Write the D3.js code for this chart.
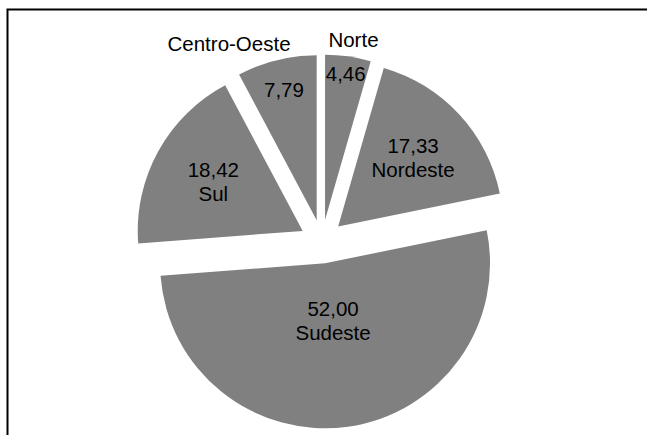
<!DOCTYPE html>
<html><head><meta charset="utf-8">
<script src="https://cdn.jsdelivr.net/npm/d3@7"></script>
<style>html,body{margin:0;padding:0;background:#fff;overflow:hidden}</style>
</head><body>
<svg id="c" width="647" height="435"></svg>
<script>
// ---- data ----
const categories = ["Norte", "Nordeste", "Sudeste", "Sul", "Centro-Oeste"];
const values = [4.46, 17.33, 52.00, 18.42, 7.79];
// which slices show their name outside the pie (value stays inside)
const nameOutside = [true, false, false, false, true];

// ---- layout / style config ----
const W = 647, H = 435;
const cx = 322, cy = 241.5, R = 165, explode = 22;
const labelDist = [148, 102, 58, 102, 135];     // distance of inner label from slice apex
const outerDist = 182;                            // distance of outside name
const outerAnchor = ["middle", null, null, null, "end"];
const outerDx = [3, 0, 0, 0, 18];
const fontSize = 20.5, lineGap = 24;
const sliceColor = "#808080";

const fmt = d3.formatLocale({decimal: ",", thousands: ".", grouping: [3], currency: ["", ""]}).format(".2f");

const svg = d3.select("#c");
svg.append("rect").attr("x", 0).attr("y", 0).attr("width", W).attr("height", H).attr("fill", "#fff");
svg.append("rect").attr("x", 7.5).attr("y", 9.5).attr("width", W + 20).attr("height", H + 20)
  .attr("fill", "none").attr("stroke", "#000").attr("stroke-width", 2);

const data = categories.map((c, i) => ({name: c, value: values[i], i}));
const pie = d3.pie().sort(null).value(d => d.value).startAngle(0).endAngle(2 * Math.PI);
const arc = d3.arc().innerRadius(0).outerRadius(R);
const arcs = pie(data);

const g = svg.append("g").attr("transform", `translate(${cx},${cy})`);

arcs.forEach(a => {
  const mid = (a.startAngle + a.endAngle) / 2;
  const ux = Math.sin(mid), uy = -Math.cos(mid);
  const ox = ux * explode, oy = uy * explode;
  const sg = g.append("g").attr("transform", `translate(${ox},${oy})`);
  sg.append("path").attr("d", arc(a)).attr("fill", sliceColor);

  const i = a.data.i;
  const lx = ux * labelDist[i], ly = uy * labelDist[i];
  const txt = (x, y, s, anchor) => sg.append("text")
    .attr("x", x).attr("y", y)
    .attr("text-anchor", anchor || "middle")
    .attr("dominant-baseline", "central")
    .attr("font-family", "'Liberation Sans', Arial, sans-serif")
    .attr("font-size", fontSize)
    .attr("fill", "#000")
    .text(s);
  if (nameOutside[i]) {
    txt(lx, ly, fmt(a.data.value));
    txt(ux * outerDist + outerDx[i], uy * outerDist, a.data.name, outerAnchor[i]);
  } else {
    txt(lx, ly - lineGap / 2, fmt(a.data.value));
    txt(lx, ly + lineGap / 2, a.data.name);
  }
});
</script>
</body></html>
